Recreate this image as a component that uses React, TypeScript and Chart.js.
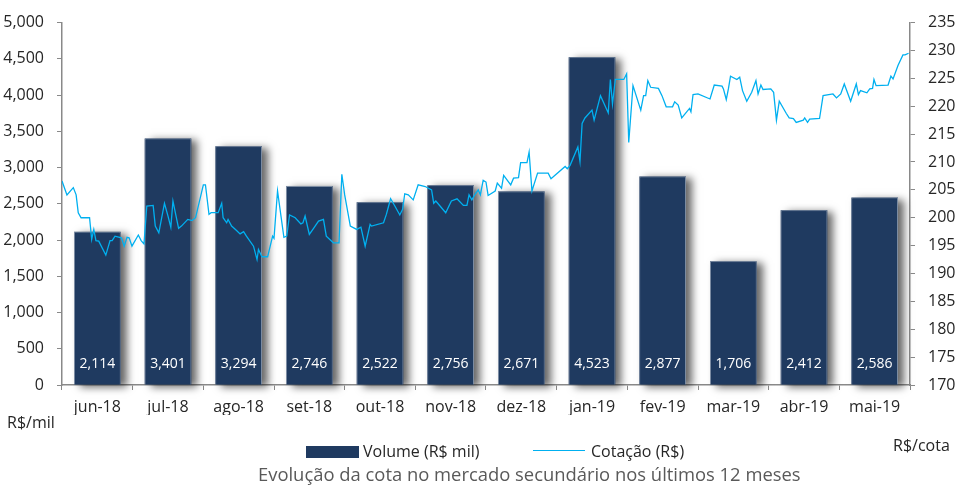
import React, { useEffect, useRef } from "react";
import { Chart, registerables } from "chart.js";

Chart.register(...registerables);

const months = ["jun-18", "jul-18", "ago-18", "set-18", "out-18", "nov-18", "dez-18", "jan-19", "fev-19", "mar-19", "abr-19", "mai-19"];
const volume = [2114, 3401, 3294, 2746, 2522, 2756, 2671, 4523, 2877, 1706, 2412, 2586];

// time position of each quote, in months since the start of jun-18
const priceMonth = [
  0.0, 0.07, 0.16, 0.2, 0.23, 0.27, 0.39, 0.42, 0.45, 0.48,
  0.52, 0.62, 0.68, 0.71, 0.75, 0.84, 0.88, 0.92, 0.95, 0.99,
  1.08, 1.12, 1.16, 1.2, 1.29, 1.32, 1.37, 1.45, 1.5, 1.54,
  1.57, 1.65, 1.69, 1.78, 1.84, 1.89, 2.0, 2.03, 2.08, 2.11,
  2.21, 2.26, 2.28, 2.33, 2.35, 2.4, 2.47, 2.52, 2.57, 2.61,
  2.71, 2.76, 2.78, 2.83, 2.91, 2.98, 3.0, 3.05, 3.14, 3.18,
  3.22, 3.3, 3.38, 3.41, 3.44, 3.5, 3.56, 3.63, 3.7, 3.74,
  3.84, 3.92, 3.96, 4.0, 4.08, 4.17, 4.23, 4.29, 4.36, 4.38,
  4.55, 4.59, 4.65, 4.71, 4.78, 4.82, 4.85, 4.9, 4.97, 5.04,
  5.14, 5.23, 5.26, 5.29, 5.43, 5.51, 5.59, 5.68, 5.73, 5.76,
  5.8, 5.84, 5.89, 5.92, 5.96, 6.0, 6.03, 6.13, 6.16, 6.22,
  6.25, 6.35, 6.39, 6.46, 6.49, 6.58, 6.61, 6.65, 6.73, 6.88,
  6.92, 7.12, 7.15, 7.19, 7.3, 7.33, 7.36, 7.4, 7.5, 7.53,
  7.62, 7.73, 7.76, 7.79, 7.83, 7.95, 7.99, 8.02, 8.08, 8.19,
  8.23, 8.26, 8.29, 8.33, 8.44, 8.49, 8.55, 8.64, 8.67, 8.72,
  8.77, 8.88, 8.9, 8.93, 9.0, 9.17, 9.23, 9.34, 9.36, 9.4,
  9.43, 9.46, 9.55, 9.59, 9.63, 9.69, 9.76, 9.82, 9.85, 9.89,
  9.92, 10.03, 10.07, 10.11, 10.15, 10.25, 10.29, 10.35, 10.39, 10.49,
  10.51, 10.55, 10.58, 10.72, 10.77, 10.91, 10.96, 11.02, 11.07, 11.16,
  11.24, 11.27, 11.3, 11.39, 11.43, 11.47, 11.49, 11.52, 11.69, 11.73,
  11.76, 11.83, 11.9, 11.93, 11.98,
];

const price = [
  206.6, 204.1, 205.4, 204.1, 200.9, 200.0, 200.0, 196.1, 197.9, 195.9,
  195.8, 193.3, 195.9, 195.9, 196.7, 196.4, 194.9, 196.5, 196.4, 194.9,
  196.9, 195.9, 195.3, 202.1, 202.2, 198.5, 197.3, 202.6, 200.3, 198.3,
  203.0, 198.1, 198.5, 199.7, 199.5, 200.0, 205.9, 205.9, 200.6, 200.9,
  200.9, 202.6, 200.0, 199.1, 199.7, 198.5, 197.7, 197.1, 197.5, 196.7,
  194.9, 192.5, 194.3, 193.0, 193.0, 196.7, 196.3, 204.8, 196.5, 196.7,
  200.5, 200.0, 198.9, 199.1, 200.3, 197.0, 198.1, 199.4, 199.7, 196.7,
  195.5, 195.5, 207.8, 204.1, 198.5, 197.9, 198.3, 194.9, 198.8, 198.5,
  199.1, 200.6, 203.4, 202.1, 200.5, 201.5, 204.3, 204.1, 203.2, 205.9,
  205.6, 205.0, 202.6, 203.0, 200.9, 203.0, 203.4, 202.2, 202.2, 204.1,
  203.2, 204.1, 205.0, 204.1, 206.7, 206.4, 204.0, 204.8, 206.2, 205.3,
  207.6, 205.9, 207.1, 207.2, 209.9, 209.9, 211.8, 204.8, 208.0, 208.0,
  207.0, 209.2, 208.8, 209.4, 212.7, 210.1, 216.9, 217.9, 219.3, 217.5,
  221.9, 218.8, 224.8, 220.4, 224.8, 224.8, 225.8, 213.5, 223.7, 219.3,
  221.9, 221.9, 224.6, 223.4, 223.2, 221.9, 219.9, 219.9, 220.8, 220.2,
  217.9, 219.6, 219.0, 222.1, 222.2, 221.3, 223.8, 223.6, 223.1, 221.2,
  223.1, 225.4, 224.8, 225.2, 222.8, 220.9, 222.5, 224.6, 222.2, 223.8,
  223.0, 223.1, 222.5, 217.5, 220.9, 218.7, 217.9, 217.8, 217.1, 217.5,
  217.9, 217.1, 217.7, 217.8, 221.9, 222.2, 221.5, 222.2, 224.0, 220.9,
  224.0, 222.1, 222.8, 222.4, 223.1, 223.2, 224.8, 223.7, 223.8, 225.4,
  224.9, 227.3, 229.2, 229.2, 229.5,
];

const BAR_COLOR = "#1f3a60";
const LINE_COLOR = "#00b0f0";
const AXIS_COLOR = "#898989";
const TEXT_COLOR = "#262626";
const FONT = "'Open Sans', sans-serif";

const fmt = (v: number) => v.toLocaleString("en-US");

const shadowPlugin = {
  id: "barShadow",
  beforeDatasetDraw(chart: any, args: any) {
    if (args.index !== 0) return;
    const ctx = chart.ctx;
    const meta = chart.getDatasetMeta(0);
    meta.data.forEach((el: any) => {
      const { x, y, base, width } = el.getProps(["x", "y", "base", "width"], true);
      ctx.save();
      ctx.shadowColor = "rgba(0,0,0,0.6)";
      ctx.shadowBlur = 8;
      ctx.shadowOffsetX = 6;
      ctx.shadowOffsetY = 2;
      ctx.fillStyle = BAR_COLOR;
      ctx.fillRect(x - width / 2, y, width, base - y);
      ctx.restore();
    });
  },
};

const barLabelPlugin = {
  id: "barLabels",
  afterDatasetsDraw(chart: any) {
    const meta = chart.getDatasetMeta(0);
    const ctx = chart.ctx;
    const bottom = chart.scales.y.bottom;
    ctx.save();
    ctx.fillStyle = "#ffffff";
    ctx.font = `14px ${FONT}`;
    ctx.textAlign = "center";
    ctx.textBaseline = "middle";
    meta.data.forEach((el: any, i: number) => {
      ctx.fillText(fmt(volume[i]), el.x, bottom - 21);
    });
    ctx.restore();
  },
};

export default function App() {
  const ref = useRef<HTMLCanvasElement | null>(null);

  useEffect(() => {
    document.body.style.margin = "0";
    if (!ref.current) return;
    const chart = new Chart(ref.current, {
      type: "line",
      data: {
        labels: months,
        datasets: [
          {
            type: "bar",
            label: "Volume (R$ mil)",
            data: volume,
            backgroundColor: BAR_COLOR,
            borderColor: "#7d8da3",
            borderWidth: 1,
            barPercentage: 0.66,
            categoryPercentage: 1,
            grouped: false,
            xAxisID: "x",
            yAxisID: "y",
            order: 2,
          } as any,
          {
            type: "line",
            label: "Cotação (R$)",
            data: priceMonth.map((m, i) => ({ x: m, y: price[i] })),
            borderColor: LINE_COLOR,
            borderWidth: 1.3,
            pointRadius: 0,
            tension: 0,
            xAxisID: "xLine",
            yAxisID: "y1",
            order: 1,
          } as any,
        ],
      },
      options: {
        animation: false,
        responsive: false,
        maintainAspectRatio: false,
        layout: { padding: { top: 20, left: 0, right: 0, bottom: 71 } },
        plugins: { legend: { display: false }, tooltip: { enabled: false } },
        scales: {
          x: {
            type: "category",
            position: "bottom",
            offset: true,
            grid: { display: true, drawOnChartArea: false, drawTicks: true, tickLength: 5, color: AXIS_COLOR, offset: true },
            border: { color: AXIS_COLOR, width: 1.5 },
            ticks: { color: TEXT_COLOR, font: { family: FONT, size: 16 }, padding: 8, maxRotation: 0, autoSkip: false },
            afterFit: (s: any) => { s.height = 30; },
          },
          xLine: { type: "linear", min: 0, max: 12, offset: false, display: false },
          y: {
            position: "left",
            min: 0,
            max: 5000,
            grid: { drawOnChartArea: false, drawTicks: true, tickLength: 5, color: AXIS_COLOR },
            border: { color: AXIS_COLOR, width: 1.5 },
            ticks: { stepSize: 500, color: TEXT_COLOR, font: { family: FONT, size: 16 }, padding: 13, callback: (v: any) => fmt(Number(v)) },
            afterFit: (s: any) => { s.width = 62; },
          },
          y1: {
            position: "right",
            min: 170,
            max: 235,
            grid: { drawOnChartArea: false, drawTicks: true, tickLength: 5, color: AXIS_COLOR },
            border: { color: AXIS_COLOR, width: 1.5 },
            ticks: { stepSize: 5, color: TEXT_COLOR, font: { family: FONT, size: 16 }, padding: 13 },
            afterFit: (s: any) => { s.width = 47; },
          },
        },
      } as any,
      plugins: [shadowPlugin, barLabelPlugin],
    });
    return () => chart.destroy();
  }, []);

  const text = (style: React.CSSProperties, content: React.ReactNode) => (
    <div style={{ position: "absolute", whiteSpace: "nowrap", fontFamily: FONT, fontSize: 16, lineHeight: "20px", color: TEXT_COLOR, ...style }}>{content}</div>
  );

  return (
    <div style={{ position: "relative", width: 957, height: 486, background: "#fff" }}>
      <canvas ref={ref} width={957} height={486} style={{ position: "absolute", left: 0, top: 0, width: 957, height: 486 }} />
      {text({ left: 7, top: 412 }, "R$/mil")}
      {text({ left: 893, top: 435 }, "R$/cota")}
      <div style={{ position: "absolute", left: 306, top: 446, width: 53, height: 12, background: BAR_COLOR }} />
      {text({ left: 363, top: 441 }, "Volume (R$ mil)")}
      <div style={{ position: "absolute", left: 533, top: 450, width: 52, height: 1.3, background: LINE_COLOR }} />
      {text({ left: 591, top: 441 }, "Cotação (R$)")}
      {text({ left: 258, top: 463, fontSize: 18.4, lineHeight: "22px", color: "#595959" }, "Evolução da cota no mercado secundário nos últimos 12 meses")}
    </div>
  );
}
